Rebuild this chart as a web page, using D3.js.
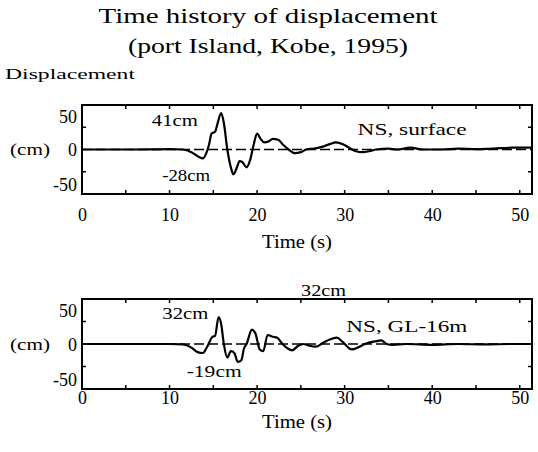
<!DOCTYPE html>
<html>
<head>
<meta charset="utf-8">
<script src="https://cdn.jsdelivr.net/npm/d3@7"></script>
<style>
  body { margin: 0; background: #fff; }
</style>
</head>
<body>
<script>
// Time history of displacement, Port Island (Kobe 1995)

const w = 538;
const h = 452;
const serif = "'Liberation Serif', 'DejaVu Serif', serif";

const timeTicks = [0, 10, 20, 30, 40, 50];
const dispTicks = [-50, 0, 50];

// NS, surface
const surfaceT = [0, 5, 10, 11.5, 12.5, 13.3, 13.8, 14.2, 14.5, 14.8, 15.2, 15.5, 15.9, 16.2, 16.6, 17.0, 17.3, 17.7, 18.0, 18.3, 18.8, 19.2, 19.6, 20.0, 20.4, 20.8, 21.3, 21.8, 22.4, 23.0, 23.6, 24.3, 25.0, 25.6, 26.5, 27.4, 28.3, 29.0, 29.8, 30.5, 31.3, 32.0, 32.8, 33.6, 35, 36, 37.5, 39, 41, 43, 45, 47, 49, 51.4];
const surfaceV = [0, 0, 0.5, 0, -3, -8, -10, -4, 5, 18, 20, 30, 41, 30, 0, -20, -28, -20, -13, -14, -20, -12, 5, 18, 12, 8, 9, 12, 11, 5, 0, -4, -3, 0, 1, 3, 6, 8, 6, 2, -2, -3, -2, 0, 1, 0, 2, 0, 0, 1, 0.5, 1, 2, 2];

// NS, GL-16m
const gl16T = [0, 5, 10, 11.5, 12.5, 13.2, 13.8, 14.3, 14.9, 15.2, 15.6, 15.9, 16.2, 16.6, 17.0, 17.4, 17.8, 18.2, 18.5, 18.8, 19.4, 19.8, 20.3, 20.7, 21.2, 21.8, 22.3, 22.9, 23.5, 24.0, 24.7, 25.3, 26.0, 26.7, 27.5, 28.3, 29.1, 29.8, 30.8, 31.5, 32.3, 33.5, 34.2, 34.8, 35.5, 37, 40, 43, 46, 49, 51.4];
const gl16V = [0, 0, 0, -0.5, -4, -9, -10, -3, 8, 9, 30, 22, 0, -15, -8, -10, -20, -18, -5, 0, 16, 12, -6, -8, 10, 8, 7, 0, -5, -7, -2, 0, -2, -3, 1, 5, 7, 2, -6, -4, 0, 3, 4, 0, -1, 0, -1, 0, -0.5, 0, 0];

const surfaceNotes = ["41cm", "-28cm", "NS, surface"];
const surfaceNoteAt = [[10.6, 33], [11.9, -29], [37.7, 22]];
const gl16Notes = ["32cm", "-19cm", "32cm", "NS, GL-16m"];
const gl16NoteAt = [[11.8, 34], [15.1, -31], [27.6, 60], [37.1, 19]];

const svg = d3.select("body")
    .append("svg")
    .attr("width", w)
    .attr("height", h)
    .style("font-family", serif)

svg.append("rect").attr("width", w).attr("height", h).attr("fill", "#fff")

function label(sel, txt, xx, yy, size, len, anchor) {
    return sel.append("text")
        .attr("x", xx).attr("y", yy)
        .attr("text-anchor", anchor || "middle")
        .attr("dominant-baseline", "central")
        .style("font-family", serif)
        .attr("font-size", size)
        .attr("textLength", len).attr("lengthAdjust", "spacingAndGlyphs")
        .text(txt)
}

// title
label(svg, "Time history of displacement", 268, 16, 21, 339)
label(svg, "(port Island, Kobe, 1995)", 268, 46, 21, 280)
label(svg, "Displacement", 5, 74, 15, 130, "start")

const x = d3.scaleLinear().domain([0, 51.4]).range([82, 532]);

const panels = [
    { t: surfaceT, v: surfaceV, notes: surfaceNotes, noteAt: surfaceNoteAt,
      noteW: [46, 48, 109], top: 105, bottom: 194, labelGap: 21, titleY: 242 },
    { t: gl16T, v: gl16V, notes: gl16Notes, noteAt: gl16NoteAt,
      noteW: [46, 55, 45, 121], top: 299, bottom: 389, labelGap: 9, titleY: 422 }
];

panels.forEach(function (p) {
    const y = d3.scaleLinear().domain([-50, 50]).range([p.bottom, p.top]);
    const g = svg.append("g");

    // dashed zero line
    g.append("line")
        .attr("x1", x(0)).attr("x2", x(51.4))
        .attr("y1", y(0)).attr("y2", y(0))
        .attr("stroke", "#000").attr("stroke-width", 1.6)
        .attr("stroke-dasharray", "10,4")

    // waveform
    const pts = p.t.map((t, i) => [t, p.v[i]]);
    g.append("path")
        .datum(pts)
        .attr("fill", "none")
        .attr("stroke", "#000")
        .attr("stroke-width", 2.2)
        .attr("stroke-linejoin", "round")
        .attr("d", d3.line().x(d => x(d[0])).y(d => y(d[1])).curve(d3.curveMonotoneX))

    // frame
    g.append("rect")
        .attr("x", x(0)).attr("y", p.top)
        .attr("width", x(51.4) - x(0)).attr("height", p.bottom - p.top)
        .attr("fill", "none").attr("stroke", "#000").attr("stroke-width", 2)

    // inner minor ticks
    const minorT = d3.range(5, 51, 5);
    g.selectAll(".tb").data(minorT).join("line")
        .attr("x1", d => x(d)).attr("x2", d => x(d))
        .attr("y1", p.bottom).attr("y2", p.bottom - 4)
        .attr("stroke", "#000").attr("stroke-width", 1.5)
    g.selectAll(".tt").data(minorT).join("line")
        .attr("x1", d => x(d)).attr("x2", d => x(d))
        .attr("y1", p.top).attr("y2", p.top + 4)
        .attr("stroke", "#000").attr("stroke-width", 1.5)
    g.selectAll(".tl").data([-25, 25]).join("line")
        .attr("x1", x(0)).attr("x2", x(0) + 4)
        .attr("y1", d => y(d)).attr("y2", d => y(d))
        .attr("stroke", "#000").attr("stroke-width", 1.5)
    g.selectAll(".tr").data([-25, 25]).join("line")
        .attr("x1", x(51.4)).attr("x2", x(51.4) - 4)
        .attr("y1", d => y(d)).attr("y2", d => y(d))
        .attr("stroke", "#000").attr("stroke-width", 1.5)

    // y axis labels
    const ya = g.append("g")
        .attr("transform", "translate(" + x(0) + ",0)")
        .call(d3.axisLeft(y).tickValues(dispTicks).tickSize(0).tickPadding(5));
    ya.attr("font-family", null);
    ya.select(".domain").remove();
    ya.selectAll("text")
        .style("font-family", serif)
        .attr("font-size", 18)
        .attr("dy", d => d === 50 ? "0.95em" : d === -50 ? "-0.2em" : "0.35em")
        .text(d => d === -50 ? "-50" : d);

    label(g, "(cm)", 30, y(0), 17, 40)

    // x axis labels
    const xa = g.append("g")
        .attr("transform", "translate(0," + p.bottom + ")")
        .call(d3.axisBottom(x).tickValues(timeTicks).tickSize(0).tickPadding(p.labelGap - 7));
    xa.attr("font-family", null);
    xa.select(".domain").remove();
    xa.selectAll("text")
        .style("font-family", serif)
        .attr("font-size", 18);

    label(g, "Time (s)", 297, p.titleY, 18, 70)

    // annotations
    p.notes.forEach(function (d, i) {
        label(g, d, x(p.noteAt[i][0]), y(p.noteAt[i][1]), 17, p.noteW[i])
    });
});
</script>
</body>
</html>
